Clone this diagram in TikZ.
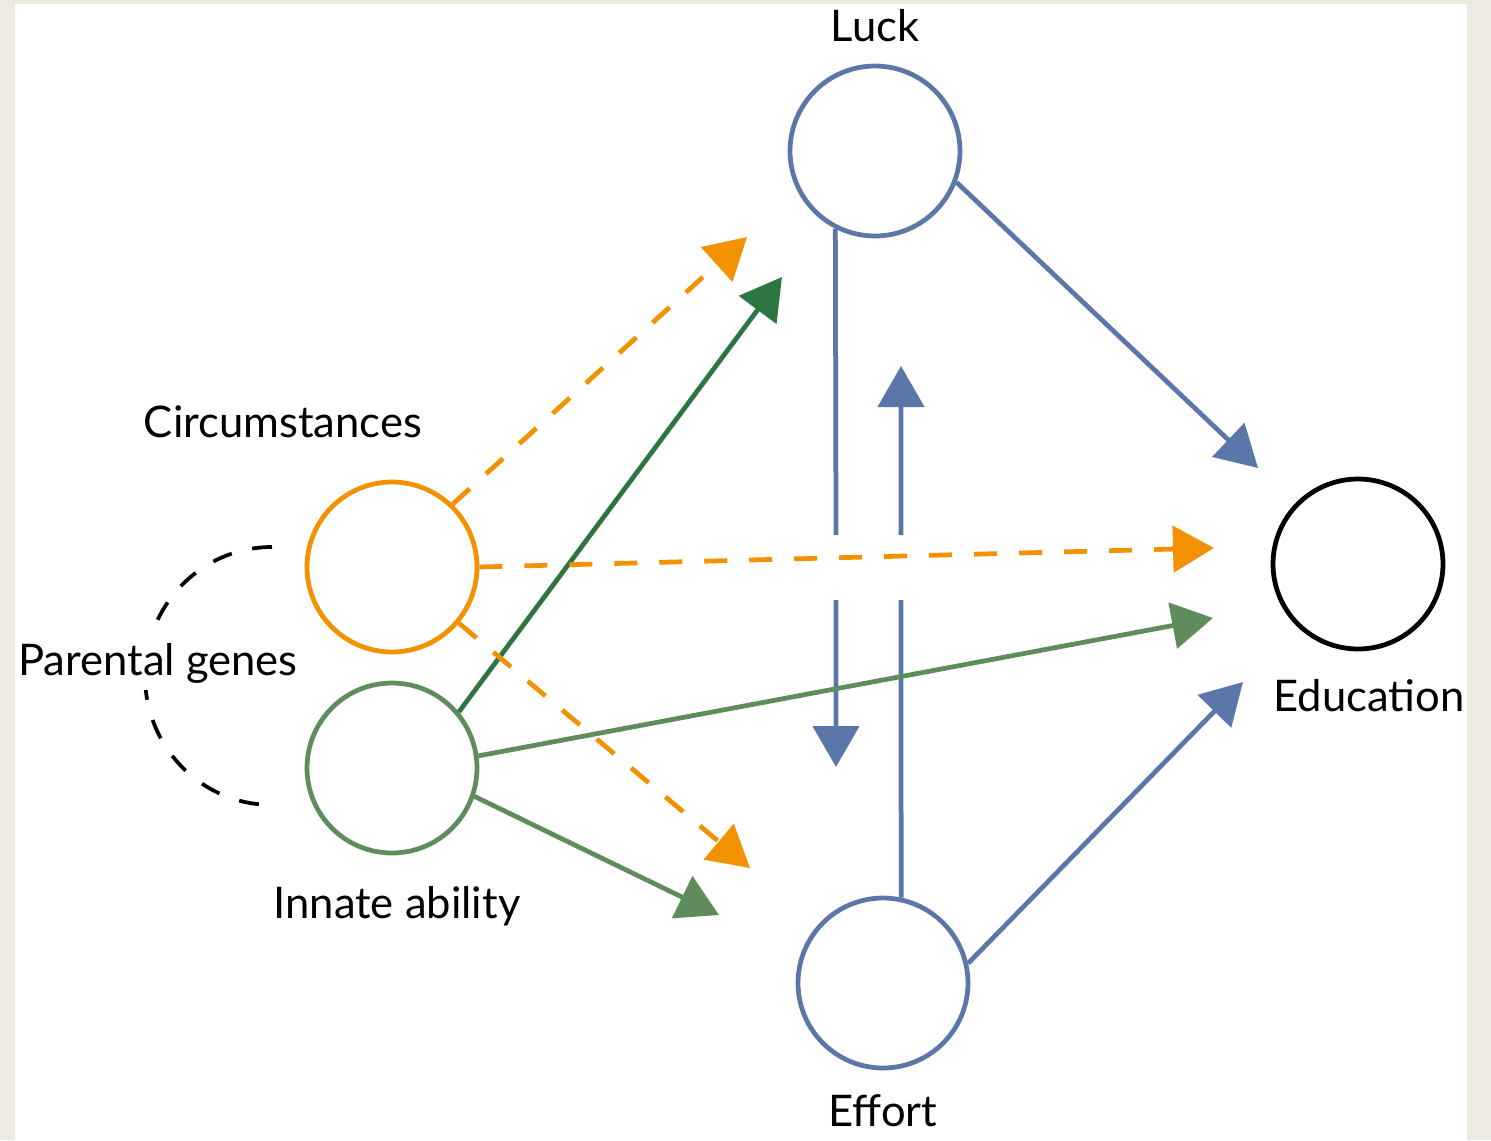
\documentclass[tikz,border=0pt]{standalone}
\usepackage{fontspec}
\setmainfont{Lato}
\usetikzlibrary{arrows.meta}
\definecolor{luckblue}{HTML}{5B77A9}
\definecolor{circorange}{HTML}{F39200}
\definecolor{abilitygreen}{HTML}{2D7541}
\definecolor{palegreen}{HTML}{5E8D5B}
\definecolor{paper}{HTML}{EDEAE0}
\tikzset{
    ball/.style={circle,draw,line width=0.095cm,minimum size=3.4cm,inner sep=0pt},
    caption/.style={anchor=base,inner sep=0pt,font=\fontsize{24.8}{29}\selectfont},
    link/.style={line width=0.095cm,-{Triangle[length=0.82cm,width=0.92cm]}},
    dashlink/.style={link,dash pattern=on 0.46cm off 0.44cm}
}
\begin{document}
\begin{tikzpicture}[x=0.02cm,y=-0.02cm]
    \fill[paper] (0,0) rectangle (1491,1140);
    \fill[white] (15,4) rectangle (1467,1140);

    \node[ball,draw=luckblue] (luck) at (875,151) {};
    \node[ball,draw=circorange] (circ) at (392,567) {};
    \node[ball,draw=palegreen] (innate) at (392,768) {};
    \node[ball,draw=luckblue] (effort) at (883,983) {};
    \node[ball,draw=black] (edu) at (1358,564) {};

    \node[caption] (luckText) at (875,41) {Luck};
    \node[caption] (circText) at (283,437) {Circumstances};
    \node[caption] (innateText) at (397,918) {Innate ability};
    \node[caption] (effortText) at (883,1126) {Effort};
    \node[caption] (eduText) at (1369,711) {Education};

%tips
    \coordinate (tipCL) at (747,237);
    \coordinate (tipCE) at (1214,548);
    \coordinate (tipCF) at (750,868);
    \coordinate (tipIL) at (782,277);
    \coordinate (tipIE) at (1213,618);
    \coordinate (tipIF) at (719,915);
    \coordinate (tipLE) at (1258,468);
    \coordinate (tipLF) at (836,767);
    \coordinate (tipFL) at (901,366);
    \coordinate (tipFE) at (1243,682);

%parental genes
    \draw[line width=0.075cm,dash pattern=on 0.4cm off 0.42cm] (272,547) arc[start angle=90,end angle=270,x radius=2.54cm,y radius=2.58cm];
    \node[caption,fill=white,inner ysep=4pt,inner xsep=0pt] (genesText) at (158,675) {Parental genes};

%luck
    \draw[link,luckblue] (luck.-21) -- (tipLE);
    \draw[link,luckblue] (luck.243) -- (836,535) (836,600) -- (tipLF);

%effort
    \draw[link,luckblue] (effort.78) -- (901,600) (901,535) -- (tipFL);
    \draw[link,luckblue] (effort.13) -- (tipFE);

%innate ability
    \draw[link,palegreen] (innate.8.6) -- (tipIE);
    \draw[link,palegreen] (innate.-19.5) -- (tipIF);
    \draw[link,abilitygreen] (innate.40) -- (tipIL);

%circumstances
    \draw[dashlink,circorange] (circ.46) -- (tipCL);
    \draw[dashlink,circorange] (circ.east) -- (tipCE);
    \draw[dashlink,circorange] (circ.-40.7) -- (tipCF);

\end{tikzpicture}
\end{document}
